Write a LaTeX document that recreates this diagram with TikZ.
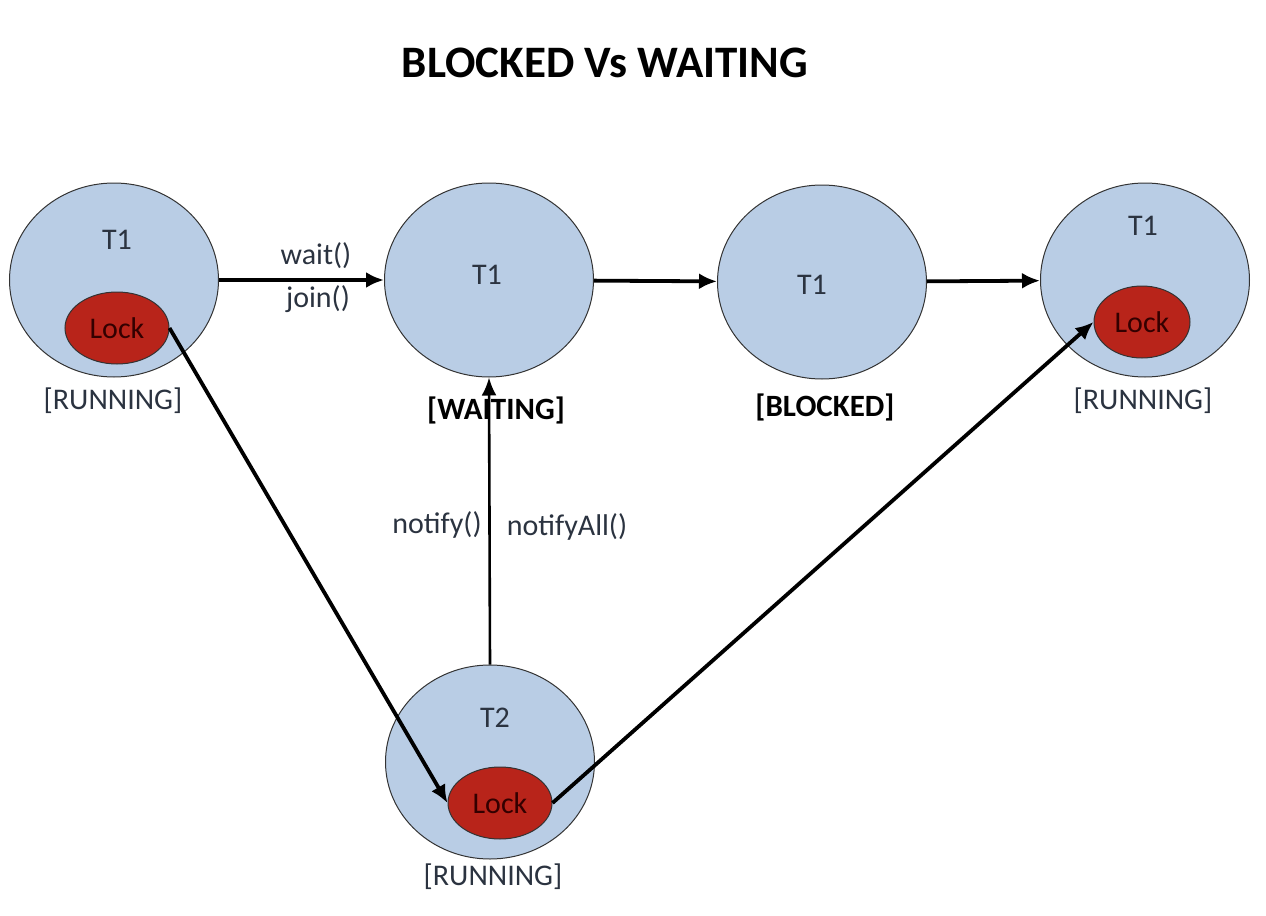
\documentclass[tikz,border=0pt]{standalone}
\usepackage{fontspec}
\setmainfont{Carlito}
\usetikzlibrary{shapes.geometric,arrows.meta}
\definecolor{cfill}{HTML}{B9CDE5}
\definecolor{lfill}{HTML}{B8241A}
\definecolor{cborder}{HTML}{333333}
\definecolor{ltext}{HTML}{2B3340}
\newcommand{\lblfont}{\fontsize{15}{18}\selectfont}
\tikzset{
  thread/.style={ellipse, draw=cborder, line width=0.5pt, fill=cfill,
    minimum width=104.5pt, minimum height=97pt, inner sep=0pt},
  lockbox/.style={ellipse, draw=cborder, line width=0.5pt, fill=lfill,
    minimum width=52pt, minimum height=36pt, inner sep=0pt,
    font=\lblfont, text=black!80!red},
  lbl/.style={font=\lblfont, text=ltext, inner sep=0pt},
  state/.style={font=\fontsize{15.5}{18}\selectfont\bfseries, text=black, inner sep=0pt},
  conn/.style={line width=1.9pt, -{Latex[length=9pt,width=8pt]}},
  thinconn/.style={line width=1.3pt, -{Latex[length=9pt,width=7.5pt]}},
}
\begin{document}
\begin{tikzpicture}[x=0.5pt,y=-0.5pt]
\useasboundingbox (0,0) rectangle (1266,916);
% title
\node[font=\fontsize{22.5}{27}\selectfont\bfseries, inner sep=0pt] (title) at (605,63) {BLOCKED Vs WAITING};
% thread circles
\node[thread] (A) at (114,280) {};
\node[thread] (B) at (489,280) {};
\node[thread] (C) at (822,282) {};
\node[thread] (D) at (1145,280) {};
\node[thread] (E) at (490,762) {};
% thread names
\node[lbl] (tA) at (117,240) {T1};
\node[lbl] (tB) at (487,275) {T1};
\node[lbl] (tC) at (812,285) {T1};
\node[lbl] (tD) at (1143,226) {T1};
\node[lbl] (tE) at (495,718) {T2};
% locks
\node[lockbox] (LA) at (117,328) {Lock};
\node[lockbox, minimum width=48pt] (LD) at (1142,322) {Lock};
\node[lockbox] (LE) at (500,803) {Lock};
% state labels
\node[lbl] (sA) at (113,401) {[RUNNING]};
\node[state] (sB) at (496,410) {[WAITING]};
\node[state] (sC) at (825,407) {[BLOCKED]};
\node[lbl] (sD) at (1143,401) {[RUNNING]};
\node[lbl] (sE) at (493,877) {[RUNNING]};
% connectors
\draw[conn] (A) -- (B);
\draw[conn] (B) -- (C);
\draw[conn] (C) -- (D);
\draw[thinconn] (E.north) -- (B.south);
\draw[conn] (LA.east) -- (LE.west);
\draw[conn] (LE.east) -- (LD.west);
% connector labels
\node[lbl] (wait) at (316,256) {wait()};
\node[lbl] (join) at (318,299) {join()};
\node[lbl] (notify) at (437,525) {notify()};
\node[lbl] (notifyall) at (567,527) {notifyAll()};
\end{tikzpicture}
\end{document}
